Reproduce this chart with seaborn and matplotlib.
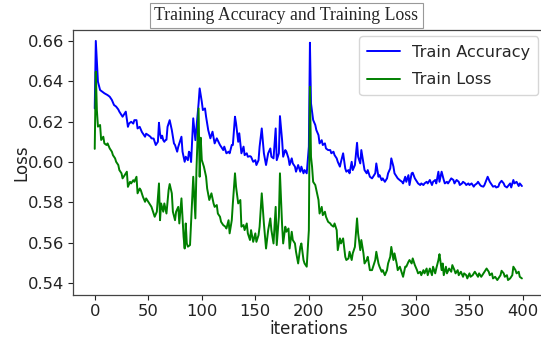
import matplotlib
matplotlib.use("Agg")
import matplotlib.pyplot as plt
import seaborn as sns
import pandas as pd

# ---- data ----
acc_iter = [0, 1, 3, 5, 7, 9, 12, 14, 16, 18, 20, 22, 23, 25, 26, 29, 31, 32, 34, 36, 37, 39, 40, 42, 44, 47, 48, 50,
            52, 53, 55, 56, 57, 59, 60, 61, 62, 63, 64, 65, 66, 67, 68, 70, 72, 74, 75, 77, 78, 79, 81, 82, 84, 85, 87,
            88, 89, 90, 92, 94, 97, 98, 100, 101, 103, 104, 106, 108, 110, 112, 114, 117, 118, 120, 121, 123, 125, 126,
            128, 129, 131, 132, 134, 135, 137, 139, 140, 142, 143, 145, 146, 148, 150, 151, 153, 154, 156, 158, 160,
            162, 164, 165, 167, 169, 170, 172, 173, 175, 176, 178, 179, 181, 182, 184, 185, 187, 188, 190, 192, 193,
            195, 196, 198, 200, 201, 202, 203, 204, 206, 207, 209, 210, 212, 213, 215, 216, 218, 220, 221, 223, 224,
            226, 227, 229, 230, 232, 234, 235, 237, 238, 240, 241, 243, 245, 246, 248, 249, 251, 252, 254, 255, 257,
            259, 260, 262, 263, 265, 266, 268, 269, 271, 273, 274, 276, 277, 279, 280, 282, 283, 285, 287, 288, 290,
            291, 293, 294, 296, 297, 299, 301, 302, 304, 305, 307, 308, 310, 311, 313, 315, 316, 318, 319, 321, 322,
            324, 326, 327, 329, 330, 332, 333, 335, 336, 338, 340, 341, 343, 344, 346, 347, 349, 350, 352, 354, 355,
            357, 358, 360, 361, 363, 364, 367, 369, 371, 372, 374, 375, 377, 378, 380, 382, 383, 385, 386, 388, 389,
            391, 392, 394, 396, 397, 399]
acc_val = [0.6265, 0.6599, 0.6397, 0.6356, 0.6348, 0.6340, 0.6331, 0.6323, 0.6307, 0.6282, 0.6274, 0.6260, 0.6249,
           0.6232, 0.6224, 0.6249, 0.6174, 0.6190, 0.6199, 0.6190, 0.6207, 0.6207, 0.6166, 0.6174, 0.6149, 0.6125,
           0.6140, 0.6133, 0.6125, 0.6117, 0.6116, 0.6100, 0.6084, 0.6100, 0.6194, 0.6140, 0.6117, 0.6130, 0.6108,
           0.6100, 0.6108, 0.6110, 0.6174, 0.6207, 0.6158, 0.6092, 0.6084, 0.6051, 0.6075, 0.6092, 0.6125, 0.6051,
           0.6001, 0.6026, 0.6009, 0.6051, 0.6043, 0.6000, 0.6216, 0.6108, 0.6290, 0.6364, 0.6298, 0.6257, 0.6265,
           0.6224, 0.6158, 0.6117, 0.6150, 0.6092, 0.6117, 0.6084, 0.6076, 0.6059, 0.6076, 0.6043, 0.6051, 0.6043,
           0.6084, 0.6084, 0.6224, 0.6191, 0.6100, 0.6142, 0.6043, 0.6076, 0.6034, 0.6043, 0.6026, 0.6029, 0.6026,
           0.6001, 0.6009, 0.5985, 0.6009, 0.6076, 0.6166, 0.6043, 0.5985, 0.6043, 0.6067, 0.6026, 0.6018, 0.6166,
           0.6009, 0.6043, 0.6227, 0.6108, 0.6026, 0.6059, 0.6051, 0.6018, 0.5985, 0.6018, 0.5993, 0.5977, 0.5952,
           0.5985, 0.5952, 0.5977, 0.5944, 0.5960, 0.5944, 0.6076, 0.6590, 0.6290, 0.6249, 0.6208, 0.6183, 0.6158,
           0.6133, 0.6092, 0.6108, 0.6084, 0.6092, 0.6067, 0.6059, 0.6059, 0.6043, 0.6051, 0.6034, 0.6018, 0.6001,
           0.5977, 0.6001, 0.6043, 0.5968, 0.5952, 0.5960, 0.5944, 0.6001, 0.5960, 0.5985, 0.6095, 0.6026, 0.5993,
           0.6059, 0.5993, 0.5960, 0.5944, 0.5960, 0.5927, 0.5919, 0.5927, 0.5944, 0.5993, 0.5927, 0.5935, 0.5910,
           0.5919, 0.5902, 0.5919, 0.5944, 0.5968, 0.6018, 0.5977, 0.5944, 0.5927, 0.5919, 0.5910, 0.5902, 0.5894,
           0.5927, 0.5902, 0.5935, 0.5886, 0.5944, 0.5947, 0.5919, 0.5902, 0.5894, 0.5886, 0.5894, 0.5886, 0.5894,
           0.5902, 0.5894, 0.5911, 0.5886, 0.5902, 0.5911, 0.5894, 0.5952, 0.5902, 0.5952, 0.5911, 0.5894, 0.5902,
           0.5894, 0.5911, 0.5919, 0.5911, 0.5894, 0.5911, 0.5902, 0.5886, 0.5894, 0.5902, 0.5894, 0.5886, 0.5894,
           0.5886, 0.5894, 0.5878, 0.5886, 0.5894, 0.5902, 0.5886, 0.5881, 0.5878, 0.5886, 0.5927, 0.5902, 0.5886,
           0.5878, 0.5881, 0.5874, 0.5878, 0.5894, 0.5907, 0.5894, 0.5881, 0.5874, 0.5881, 0.5894, 0.5874, 0.5911,
           0.5894, 0.5902, 0.5881, 0.5894, 0.5881]

loss_iter = [0, 1, 2, 3, 5, 6, 8, 9, 11, 12, 14, 16, 17, 19, 20, 22, 23, 25, 26, 28, 30, 31, 33, 34, 36, 37, 39, 40,
             42, 43, 45, 47, 48, 50, 51, 53, 55, 56, 58, 60, 61, 62, 64, 65, 67, 69, 70, 72, 73, 75, 76, 78, 79, 81,
             83, 84, 85, 86, 87, 89, 90, 92, 94, 95, 97, 98, 99, 100, 102, 104, 105, 107, 109, 111, 112, 114, 115,
             117, 118, 120, 122, 123, 125, 126, 128, 129, 131, 132, 134, 136, 137, 139, 140, 142, 143, 145, 146, 148,
             150, 151, 153, 154, 156, 158, 160, 162, 164, 165, 167, 169, 170, 172, 173, 175, 176, 178, 179, 181, 182,
             184, 185, 187, 188, 190, 192, 193, 195, 196, 198, 200, 201, 202, 203, 204, 206, 207, 209, 210, 212, 213,
             215, 216, 218, 220, 221, 223, 224, 226, 227, 229, 230, 232, 234, 235, 237, 238, 240, 241, 243, 245, 246,
             248, 249, 251, 252, 254, 255, 257, 259, 260, 262, 263, 265, 266, 268, 269, 271, 273, 274, 276, 277, 279,
             280, 282, 283, 285, 287, 288, 290, 291, 293, 294, 296, 297, 299, 301, 302, 304, 305, 307, 308, 310, 311,
             313, 315, 316, 318, 319, 321, 322, 324, 325, 326, 328, 329, 331, 333, 334, 336, 337, 339, 340, 342, 344,
             345, 347, 348, 350, 351, 353, 355, 356, 358, 359, 361, 362, 364, 366, 368, 369, 371, 372, 374, 376, 377,
             379, 380, 382, 383, 385, 386, 388, 390, 391, 393, 394, 396, 397, 399]
loss_val = [0.6065, 0.6447, 0.6257, 0.6175, 0.6183, 0.6109, 0.6125, 0.6092, 0.6084, 0.6092, 0.6067, 0.6051, 0.6034,
            0.6018, 0.6001, 0.5985, 0.5960, 0.5944, 0.5919, 0.5935, 0.5952, 0.5877, 0.5902, 0.5894, 0.5910, 0.5902,
            0.5927, 0.5845, 0.5869, 0.5861, 0.5828, 0.5803, 0.5820, 0.5803, 0.5795, 0.5778, 0.5745, 0.5729, 0.5754,
            0.5894, 0.5712, 0.5795, 0.5754, 0.5795, 0.5745, 0.5861, 0.5891, 0.5845, 0.5754, 0.5712, 0.5754, 0.5778,
            0.5696, 0.5820, 0.5630, 0.5572, 0.5696, 0.5597, 0.5581, 0.5589, 0.5700, 0.5927, 0.5721, 0.5960, 0.6265,
            0.5927, 0.6120, 0.6010, 0.5976, 0.5927, 0.5869, 0.5812, 0.5845, 0.5795, 0.5778, 0.5787, 0.5745, 0.5729,
            0.5704, 0.5688, 0.5680, 0.5671, 0.5712, 0.5647, 0.5712, 0.5795, 0.5944, 0.5877, 0.5795, 0.5812, 0.5680,
            0.5688, 0.5663, 0.5696, 0.5647, 0.5614, 0.5663, 0.5605, 0.5647, 0.5605, 0.5638, 0.5680, 0.5845, 0.5696,
            0.5572, 0.5663, 0.5721, 0.5663, 0.5597, 0.5778, 0.5589, 0.5729, 0.5944, 0.5688, 0.5597, 0.5680, 0.5655,
            0.5671, 0.5572, 0.5655, 0.5614, 0.5597, 0.5556, 0.5498, 0.5580, 0.5597, 0.5515, 0.5498, 0.5482, 0.5663,
            0.6372, 0.6026, 0.5976, 0.5902, 0.5886, 0.5861, 0.5812, 0.5745, 0.5778, 0.5737, 0.5754, 0.5729, 0.5704,
            0.5696, 0.5688, 0.5680, 0.5696, 0.5663, 0.5564, 0.5622, 0.5597, 0.5622, 0.5531, 0.5515, 0.5523, 0.5556,
            0.5515, 0.5548, 0.5580, 0.5721, 0.5647, 0.5564, 0.5614, 0.5548, 0.5498, 0.5515, 0.5531, 0.5465, 0.5465,
            0.5482, 0.5515, 0.5556, 0.5498, 0.5482, 0.5457, 0.5465, 0.5440, 0.5465, 0.5498, 0.5531, 0.5580, 0.5515,
            0.5548, 0.5498, 0.5465, 0.5482, 0.5449, 0.5432, 0.5482, 0.5482, 0.5506, 0.5515, 0.5498, 0.5523, 0.5490,
            0.5465, 0.5449, 0.5457, 0.5440, 0.5465, 0.5449, 0.5473, 0.5440, 0.5473, 0.5440, 0.5482, 0.5449, 0.5473,
            0.5515, 0.5544, 0.5465, 0.5498, 0.5440, 0.5482, 0.5449, 0.5473, 0.5457, 0.5490, 0.5465, 0.5449, 0.5465,
            0.5440, 0.5457, 0.5432, 0.5449, 0.5440, 0.5424, 0.5449, 0.5432, 0.5440, 0.5457, 0.5449, 0.5432, 0.5449,
            0.5432, 0.5440, 0.5457, 0.5473, 0.5457, 0.5440, 0.5449, 0.5424, 0.5432, 0.5416, 0.5424, 0.5440, 0.5462,
            0.5449, 0.5432, 0.5440, 0.5416, 0.5424, 0.5440, 0.5482, 0.5465, 0.5449, 0.5457, 0.5432, 0.5424]

series_names = ["Train Accuracy", "Train Loss"]
series_colors = ["blue", "green"]
title_text = "Training Accuracy and Training Loss"
x_label = "iterations"
y_label = "Loss"
x_ticks = [0, 50, 100, 150, 200, 250, 300, 350, 400]
y_ticks = [0.54, 0.56, 0.58, 0.60, 0.62, 0.64, 0.66]

df = pd.concat([
    pd.DataFrame({"iteration": acc_iter, "value": acc_val, "series": series_names[0]}),
    pd.DataFrame({"iteration": loss_iter, "value": loss_val, "series": series_names[1]}),
], ignore_index=True)

sns.set_style("white")
plt.rcParams["font.family"] = ["DejaVu Sans"]

W, H = 541, 341
fig = plt.figure(figsize=(W / 100, H / 100), dpi=100)
ax = fig.add_axes([73 / W, 46 / H, 471.4 / W, 265 / H])

sns.lineplot(data=df, x="iteration", y="value", hue="series",
             palette=dict(zip(series_names, series_colors)),
             estimator=None, sort=True, linewidth=1.4, ax=ax)

ax.set_xlim(-20.3, 420.0)
ax.set_ylim(0.5342, 0.6653)
ax.set_xticks(x_ticks)
ax.set_yticks(y_ticks)
ax.set_yticklabels([f"{v:.2f}" for v in y_ticks])
ax.tick_params(axis="both", labelsize=11.8, colors="#222222", length=3.5, width=0.8,
               direction="out", left=True, bottom=True, labelcolor="#222222", pad=3)
for s in ax.spines.values():
    s.set_color("#444444")
    s.set_linewidth(0.9)
ax.set_xlabel(x_label, fontsize=12, color="#222222", labelpad=1)
ax.set_ylabel(y_label, fontsize=12, color="#222222", labelpad=-2)

leg = ax.legend(loc="upper right", fontsize=11.6, frameon=True, borderaxespad=0.4,
                handlelength=2.0, labelspacing=0.8, borderpad=0.5, handletextpad=0.75, title=None)
leg.get_frame().set_edgecolor("#cccccc")

fig.text(286.5 / W, 1 - 15.5 / H, title_text, ha="center", va="center",
         fontsize=12.8, family=["Liberation Serif"],
         bbox=dict(boxstyle="square,pad=0.25", facecolor="white", edgecolor="#999999", linewidth=0.8))

fig.savefig("out.png", dpi=100)
